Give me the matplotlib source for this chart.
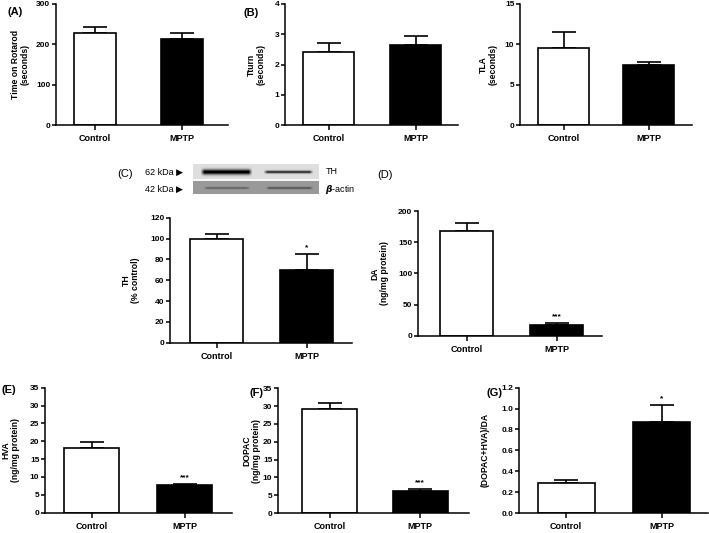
import numpy as np
import matplotlib
matplotlib.use("Agg")
import matplotlib.pyplot as plt

plt.rcParams['font.family'] = ['Liberation Sans', 'DejaVu Sans']
plt.rcParams['font.weight'] = 'bold'

groups = ["Control", "MPTP"]

rotarod_mean = [228, 213]
rotarod_err = [14, 15]
tturn_mean = [2.41, 2.64]
tturn_err = [0.32, 0.31]
tla_mean = [9.5, 7.4]
tla_err = [2.0, 0.45]
th_mean = [100, 69.5]
th_err = [4.8, 15.2]
da_mean = [168.5, 17.8]
da_err = [12.3, 3.2]
hva_mean = [18.2, 7.8]
hva_err = [1.6, 0.2]
dopac_mean = [29.1, 6.3]
dopac_err = [1.9, 0.5]
ratio_mean = [0.285, 0.876]
ratio_err = [0.035, 0.16]

W, H = 709, 533
fig = plt.figure(figsize=(W / 100, H / 100), dpi=100)

TICK_FS = 6.0
XL_FS = 6.5
YL_FS = 6.2
LW = 1.1


def panel(box, centers, wpx, means, errs, ylim, yticks, ylabel, ylabel_x,
          stars=None, ticklabels=None):
    l, r, t, b = box
    ax = fig.add_axes([l / W, 1 - b / H, (r - l) / W, (b - t) / H])
    c0, c1 = centers
    unit = c1 - c0
    ax.set_xlim(-(c0 - l) / unit, 1 + (r - c1) / unit)
    ax.set_ylim(*ylim)
    width = wpx / unit
    x = np.arange(len(means))
    ax.bar(x, means, width=width, color=["white", "black"], edgecolor="black",
           linewidth=1.2, zorder=2)
    ax.errorbar(x, means, yerr=[[0] * len(errs), errs], fmt="none",
                ecolor="black", elinewidth=1.2, capsize=8.5, capthick=1.2,
                zorder=1)
    for s in ["top", "right"]:
        ax.spines[s].set_visible(False)
    for s in ["left", "bottom"]:
        ax.spines[s].set_linewidth(LW)
    ax.set_yticks(yticks)
    if ticklabels is not None:
        ax.set_yticklabels(ticklabels)
    ax.set_xticks(x)
    ax.set_xticklabels(groups, fontsize=XL_FS, fontweight="bold")
    ax.tick_params(axis="y", labelsize=TICK_FS, length=2.8, width=LW, pad=1.3)
    ax.tick_params(axis="x", length=3.5, width=LW, pad=3)
    for lab in ax.get_yticklabels():
        lab.set_fontweight("bold")
    ax.set_ylabel(ylabel, fontsize=YL_FS, fontweight="bold", linespacing=1.1)
    ax.yaxis.label.set_va("center")
    ax.yaxis.set_label_coords((ylabel_x - l) / (r - l), 0.5)
    if stars:
        for i, s in enumerate(stars):
            if s:
                ax.annotate(s, (x[i], means[i] + errs[i]), xytext=(0, 2),
                            textcoords="offset points", ha="center", va="bottom",
                            fontsize=6, fontweight="bold")
    return ax


def label(txt, xp, yp, bold=True):
    fig.text(xp / W, 1 - yp / H, txt, fontsize=8,
             fontweight="bold" if bold else "normal", ha="left", va="center")


# Row 1
panel((56, 228, 4, 125), (95, 181.5), 42, rotarod_mean, rotarod_err,
      (0, 300), [0, 100, 200, 300], "Time on Rotarod\n(seconds)", 20)
label("(A)", 7, 12)
panel((285, 458, 4, 125.3), (328.5, 415.5), 51, tturn_mean, tturn_err,
      (0, 4), [0, 1, 2, 3, 4], "Tturn\n(seconds)", 256)
label("(B)", 243, 13)
panel((520, 692, 4, 125.3), (563.5, 648.5), 51, tla_mean, tla_err,
      (0, 15), [0, 5, 10, 15], "TLA\n(seconds)", 488)

# Row 2
panel((170, 352, 217.7, 342.7), (216.5, 306.5), 53, th_mean, th_err,
      (0, 120), [0, 20, 40, 60, 80, 100, 120], "TH\n(% control)", 131,
      stars=[None, "*"])
label("(C)", 117, 174, bold=False)
panel((418, 602, 211, 335.7), (466.5, 556.5), 53, da_mean, da_err,
      (0, 200), [0, 50, 100, 150, 200], "DA\n(ng/mg protein)", 380,
      stars=[None, "***"])
label("(D)", 377, 175, bold=False)

# Row 3
panel((45, 232, 387.7, 512.7), (91.5, 184.5), 55, hva_mean, hva_err,
      (0, 35), [0, 5, 10, 15, 20, 25, 30, 35], "HVA\n(ng/mg protein)", 11,
      stars=[None, "***"])
label("(E)", 2, 390)
panel((278, 469, 388.3, 513), (329.5, 420), 55, dopac_mean, dopac_err,
      (0, 35), [0, 5, 10, 15, 20, 25, 30, 35], "DOPAC\n(ng/mg protein)", 252,
      stars=[None, "***"])
label("(F)", 250, 393)
panel((519, 708, 387.7, 513), (566, 661.5), 57, ratio_mean, ratio_err,
      (0, 1.2), [0, 0.2, 0.4, 0.6, 0.8, 1.0, 1.2], "(DOPAC+HVA)/DA", 485,
      stars=[None, "*"],
      ticklabels=["0.0", "0.2", "0.4", "0.6", "0.8", "1.0", "1.2"])
label("(G)", 486, 393)

# Western blot image (decorative)
bl, br, bt, bb = 193, 319, 164, 194
bax = fig.add_axes([bl / W, 1 - bb / H, (br - bl) / W, (bb - bt) / H])
nx, ny = br - bl, bb - bt
img = np.ones((ny, nx))
yy = np.arange(ny)[:, None]
xx = np.arange(nx)[None, :] + bl
top = yy < 15
gap = (yy >= 15) & (yy < 17)
bot = yy >= 17
img = np.where(top, 0.87, img)
img = np.where(bot, 0.6, img)
img = np.where(gap, 0.97, img)


def band(x0, x1, yc, thick, depth, base):
    mx = np.clip(np.minimum(xx - x0, x1 - xx) / 4.0, 0, 1)
    my = np.exp(-((yy - yc) / thick) ** 2)
    return base - depth * mx * my


img = np.where(top, np.minimum(img, band(200, 252, 7.5, 2.6, 0.9, 0.87)), img)
img = np.where(top, np.minimum(img, band(263, 313, 7.5, 1.4, 0.7, 0.87)), img)
img = np.where(bot, np.minimum(img, band(203, 250, 23.5, 1.0, 0.22, 0.6)), img)
img = np.where(bot, np.minimum(img, band(265, 313, 23.5, 1.1, 0.28, 0.6)), img)
bax.imshow(img, cmap="gray", vmin=0, vmax=1, aspect="auto",
           interpolation="bilinear")
bax.axis("off")

fig.text(183 / W, 1 - 172 / H, "62 kDa \u25B6", fontsize=6.5, fontweight="normal",
         ha="right", va="center")
fig.text(183 / W, 1 - 189 / H, "42 kDa \u25B6", fontsize=6.5, fontweight="normal",
         ha="right", va="center")
fig.text(326 / W, 1 - 172 / H, "TH", fontsize=6.5, fontweight="normal",
         ha="left", va="center")
fig.text(325 / W, 1 - 189 / H, r"$\beta$-actin", fontsize=6.5,
         fontweight="normal", ha="left", va="center")

fig.savefig("out.png", dpi=100, facecolor="white")
